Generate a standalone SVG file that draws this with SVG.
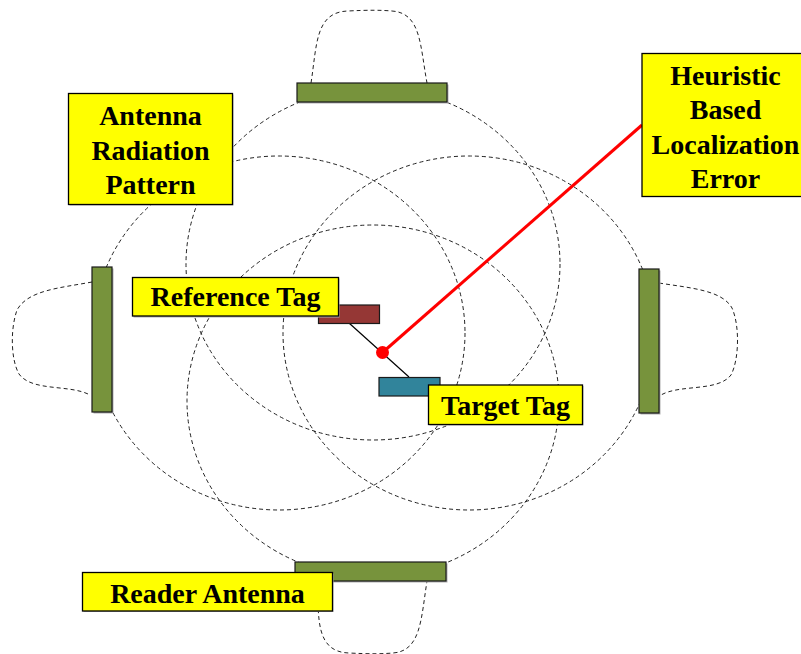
<svg xmlns="http://www.w3.org/2000/svg" width="801" height="654" viewBox="0 0 801 654">
  <defs>
    <style>
      .pattern { fill: none; stroke: #222; stroke-width: 1; stroke-dasharray: 4 3; }
      .antenna { fill: #77933C; stroke: #1a1a1a; stroke-width: 1.2; }
      .shadow { fill: #b0b0b0; }
      .label-box { fill: #FFFF00; stroke: #000; stroke-width: 1.3; }
      .label { font-family: "Liberation Serif", "Times New Roman", serif; font-weight: bold; font-size: 28px; fill: #000; text-anchor: middle; }
      .tag-link { stroke: #000; stroke-width: 1.2; fill: none; }
      .error-line { stroke: #FF0000; stroke-width: 3; fill: none; }
    </style>
  </defs>
  <rect width="801" height="654" fill="#fff"/>

  <!-- radiation patterns: main lobe toward the centre, small back lobe behind each antenna -->
  <g id="patterns">
    <g id="pattern-top">
      <ellipse class="pattern" cx="373" cy="264" rx="187" ry="176"/>
      <path class="pattern" d="M311,83 C317,45 315,12 348,11 C368,10 380,10 392,11 C421,13 420,45 427,83"/>
    </g>
    <g id="pattern-bottom">
      <ellipse class="pattern" cx="373" cy="401" rx="186" ry="176"/>
      <path class="pattern" d="M318,581 C318,619 316,652 349,653 C369,654 381,654 393,653 C421,651 421,619 427,581"/>
    </g>
    <g id="pattern-left">
      <ellipse class="pattern" cx="279" cy="333" rx="186" ry="177"/>
      <path class="pattern" d="M92,282 C60,288 28,290 17,310 C10,330 11,360 19,374 C32,392 70,384 90,395"/>
    </g>
    <g id="pattern-right">
      <ellipse class="pattern" cx="469" cy="333" rx="186" ry="177"/>
      <path class="pattern" d="M659,283 C690,288 722,290 732,308 C740,326 739,360 731,375 C718,392 680,384 661,395"/>
    </g>
  </g>

  <!-- reader antennas -->
  <g id="antenna-top">
    <rect class="shadow" x="298.5" y="84.5" width="150" height="19"/>
    <rect class="antenna" x="297" y="83" width="150" height="19"/>
  </g>
  <g id="antenna-left">
    <rect class="shadow" x="93.5" y="268.5" width="20" height="145"/>
    <rect class="antenna" x="92" y="267" width="20" height="145"/>
  </g>
  <g id="antenna-right">
    <rect class="shadow" x="640.5" y="270.5" width="20" height="144"/>
    <rect class="antenna" x="639" y="269" width="20" height="144"/>
  </g>
  <g id="antenna-bottom">
    <rect class="shadow" x="296.5" y="563.5" width="151" height="19"/>
    <rect class="antenna" x="295" y="562" width="151" height="19"/>
  </g>

  <!-- connectors -->
  <g id="connectors">
    <line class="tag-link" x1="349" y1="323" x2="409" y2="377"/>
    <line class="error-line" x1="382.5" y1="352.5" x2="642" y2="125"/>
  </g>

  <!-- tags -->
  <g id="reference-tag">
    <rect x="318.5" y="305" width="61" height="18.5" fill="#953735" stroke="#1a1a1a" stroke-width="1.2"/>
  </g>
  <g id="target-tag">
    <rect x="379" y="377.5" width="61" height="18.5" fill="#31849B" stroke="#1a1a1a" stroke-width="1.2"/>
  </g>
  <g id="error-point">
    <circle cx="382.5" cy="352.5" r="6.5" fill="#FF0000"/>
  </g>

  <!-- labels -->
  <g id="label-radiation">
    <rect class="shadow" x="69.5" y="94.5" width="164" height="111"/>
    <rect class="label-box" x="68.5" y="93.5" width="164" height="111"/>
    <text class="label" x="150.5" y="125">Antenna</text>
    <text class="label" x="150.5" y="159.5">Radiation</text>
    <text class="label" x="150.5" y="194">Pattern</text>
  </g>
  <g id="label-heuristic">
    <rect class="label-box" x="642" y="53.5" width="170" height="143"/>
    <text class="label" x="725.5" y="84.5">Heuristic</text>
    <text class="label" x="725.5" y="119">Based</text>
    <text class="label" x="725.5" y="153.5">Localization</text>
    <text class="label" x="725.5" y="187.5">Error</text>
  </g>
  <g id="label-reference">
    <rect class="shadow" x="133.5" y="278.5" width="206" height="39"/>
    <rect class="label-box" x="132.5" y="277.5" width="206" height="38.5"/>
    <text class="label" x="235.5" y="305.5">Reference Tag</text>
  </g>
  <g id="label-target">
    <rect class="shadow" x="429.5" y="386" width="154" height="39.5"/>
    <rect class="label-box" x="428.5" y="385" width="154" height="39.5"/>
    <text class="label" x="505.5" y="415">Target Tag</text>
  </g>
  <g id="label-reader">
    <rect class="shadow" x="83.5" y="573.5" width="250" height="38.5"/>
    <rect class="label-box" x="82.5" y="572.5" width="250" height="38.5"/>
    <text class="label" x="207.5" y="603">Reader Antenna</text>
  </g>
</svg>
